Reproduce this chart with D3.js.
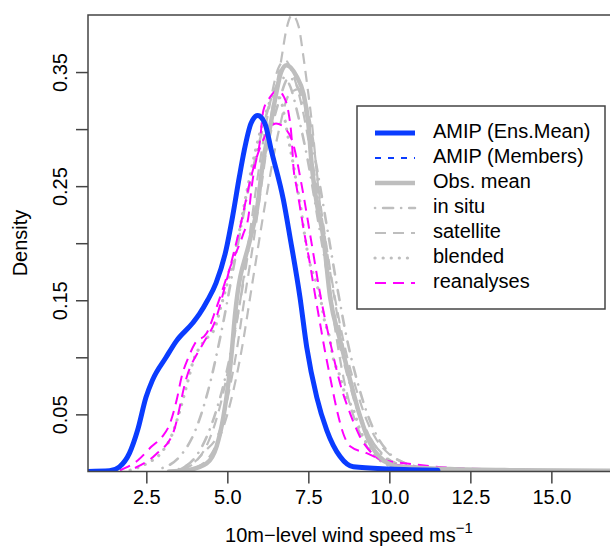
<!DOCTYPE html>
<head>
  <meta charset="utf-8">
  <script src="https://d3js.org/d3.v7.min.js"></script>
  <style>
    body { margin:0; background:#fff; }
    text { font-family: "Liberation Sans", Arial, sans-serif; }
  </style>
</head>
<body>
<script>
// density curves: [wind speed, density]
var amipMean = [[0.70,0],[1.36,0.0005],[1.67,0.004],[1.98,0.016],[2.23,0.036],[2.49,0.065],[2.69,0.080],
  [3.11,0.100],[3.42,0.114],[3.93,0.130],[4.14,0.138],[4.39,0.150],[4.65,0.165],[4.96,0.194],[5.16,0.223],
  [5.37,0.258],[5.52,0.281],[5.73,0.305],[5.94,0.312],[6.16,0.305],[6.36,0.281],[6.73,0.238],[6.93,0.206],
  [7.24,0.153],[7.45,0.109],[7.76,0.065],[8.07,0.036],[8.48,0.013],[8.89,0.004],[10.02,0.002],[11.5,0.001]];

var obsMean = [[3.2,0],[3.75,0.001],[4.36,0.007],[4.67,0.022],[4.88,0.048],[5.03,0.077],[5.14,0.106],[5.24,0.138],
  [5.70,0.203],[5.91,0.229],[6.11,0.273],[6.32,0.302],[6.50,0.330],[6.66,0.350],[6.83,0.356],[7.14,0.346],
  [7.35,0.331],[7.50,0.305],[7.60,0.270],[7.76,0.235],[7.96,0.206],[8.17,0.153],[8.48,0.115],[8.79,0.080],
  [9.10,0.048],[9.40,0.025],[9.81,0.010],[10.33,0.004],[11.87,0.002],[14.0,0.001],[16.81,0.0005]];

var inSitu1 = [[3.0,0.003],[3.5,0.012],[4.0,0.035],[4.4,0.07],[4.8,0.12],[5.2,0.18],[5.6,0.24],[6.0,0.29],
  [6.4,0.33],[6.7,0.345],[6.9,0.34],[7.2,0.31],[7.5,0.27],[7.8,0.22],[8.1,0.17],[8.4,0.12],[8.7,0.085],
  [9.0,0.055],[9.4,0.03],[9.8,0.014],[10.3,0.006],[11,0.002],[13,0.001]];
var inSitu2 = [[3.5,0.002],[4.0,0.012],[4.5,0.04],[5.0,0.09],[5.4,0.15],[5.8,0.22],[6.2,0.28],[6.6,0.325],
  [6.9,0.345],[7.2,0.335],[7.5,0.305],[7.8,0.26],[8.1,0.21],[8.4,0.16],[8.7,0.115],[9.0,0.08],[9.3,0.052],
  [9.6,0.032],[10.0,0.016],[10.5,0.007],[11.2,0.003],[12.5,0.001]];

var sat1 = [[3.5,0.001],[3.73,0.005],[4.06,0.010],[4.25,0.016],[4.77,0.036],[5.08,0.074],[5.29,0.106],[5.49,0.144],
  [5.8,0.20],[6.1,0.26],[6.4,0.32],[6.66,0.36],[6.82,0.387],[7.0,0.40],[7.2,0.39],[7.35,0.363],[7.5,0.331],
  [7.6,0.308],[7.8,0.25],[8.0,0.195],[8.3,0.13],[8.6,0.08],[9.0,0.04],[9.4,0.018],[9.9,0.007],[10.5,0.002],[11.5,0.001]];
var sat2 = [[3.6,0.002],[4.0,0.008],[4.4,0.025],[4.8,0.06],[5.1,0.1],[5.4,0.15],[5.7,0.21],[6.0,0.27],[6.3,0.32],
  [6.6,0.355],[6.8,0.36],[7.0,0.35],[7.3,0.32],[7.6,0.275],[7.9,0.225],[8.2,0.17],[8.5,0.12],[8.8,0.08],
  [9.1,0.05],[9.4,0.03],[9.8,0.015],[10.3,0.006],[11,0.002],[12.5,0.001]];
var sat3 = [[4.0,0.003],[4.5,0.015],[5.0,0.05],[5.4,0.1],[5.8,0.17],[6.2,0.24],[6.6,0.3],[6.9,0.33],[7.2,0.335],
  [7.45,0.32],[7.65,0.29],[7.85,0.24],[8.1,0.19],[8.4,0.14],[8.7,0.1],[9.0,0.07],[9.3,0.045],[9.6,0.028],
  [10.0,0.015],[10.5,0.007],[11.2,0.003],[12,0.001]];

var blended = [[2.0,0.001],[2.52,0.007],[2.98,0.017],[3.29,0.032],[3.48,0.048],[3.79,0.080],[3.94,0.096],
  [4.25,0.113],[4.62,0.126],[4.77,0.141],[5.0,0.165],[5.3,0.20],[5.6,0.245],[5.9,0.285],[6.2,0.315],[6.45,0.33],
  [6.65,0.325],[6.83,0.300],[6.94,0.283],[7.05,0.267],[7.15,0.250],[7.26,0.233],[7.34,0.216],[7.55,0.182],
  [7.73,0.167],[7.89,0.149],[8.0,0.132],[8.15,0.118],[8.26,0.100],[8.47,0.084],[8.63,0.068],[8.89,0.054],
  [9.1,0.036],[9.35,0.022],[9.8,0.008],[10.5,0.002]];

var rean1 = [[1.69,0.001],[2.25,0.010],[2.67,0.022],[2.98,0.030],[3.23,0.042],[3.44,0.063],[3.59,0.083],[3.80,0.100],
  [4.0,0.112],[4.36,0.121],[4.67,0.144],[5.1,0.18],[5.49,0.208],[5.65,0.223],[5.75,0.249],[5.85,0.267],[6.0,0.288],
  [6.11,0.316],[6.32,0.328],[6.55,0.334],[6.75,0.328],[6.88,0.316],[6.99,0.290],[7.04,0.267],[7.14,0.249],
  [7.24,0.232],[7.35,0.213],[7.55,0.182],[7.70,0.156],[7.86,0.130],[8.01,0.106],[8.17,0.083],[8.38,0.054],
  [8.58,0.033],[8.79,0.022],[9.30,0.016],[9.81,0.010],[10.54,0.007],[12,0.003],[14,0.0015],[16.81,0.001]];
var rean2 = [[2.15,0.003],[2.8,0.015],[3.33,0.034],[3.75,0.083],[4.25,0.112],[4.6,0.13],[5.0,0.17],[5.4,0.215],
  [5.75,0.26],[6.1,0.29],[6.5,0.305],[6.8,0.30],[7.0,0.29],[7.3,0.25],[7.6,0.2],[7.9,0.15],[8.2,0.11],
  [8.5,0.075],[8.8,0.05],[9.1,0.03],[9.5,0.015],[10,0.007],[10.8,0.004],[12,0.002],[14,0.001],[16.81,0.001]];

var legendLabels = ["AMIP (Ens.Mean)", "AMIP (Members)", "Obs. mean", "in situ", "satellite", "blended", "reanalyses"];
var xTicks = [2.5, 5.0, 7.5, 10.0, 12.5, 15.0];
var yTicks = [0.05, 0.10, 0.15, 0.20, 0.25, 0.30, 0.35];
var yLabelled = [0.05, 0.15, 0.25, 0.35];

var width = 610, height = 547;
var plot = {left: 88, right: 610, top: 15, bottom: 471.4};

var blue = "#0a3cff", grey = "#bebebe", magenta = "#ff00ff";
var styles = {
  mean:    {color: blue, w: 5, dash: null, cap: "round"},
  members: {color: blue, w: 1.8, dash: "6,7", cap: "butt"},
  obs:     {color: grey, w: 4.5, dash: null, cap: "round"},
  insitu:  {color: grey, w: 2.6, dash: "0.1,8,10,8", cap: "round"},
  sat:     {color: grey, w: 2.2, dash: "11,7", cap: "butt"},
  blend:   {color: grey, w: 3.2, dash: "0.1,8", cap: "round"},
  rean:    {color: magenta, w: 2.0, dash: "11,7", cap: "butt"}
};

var svg = d3.select("body").append("svg")
  .attr("width", width)
  .attr("height", height);

var x = d3.scaleLinear().domain([0.70, 16.81]).range([plot.left, plot.right]);
var y = d3.scaleLinear().domain([0, 0.4]).range([plot.bottom, plot.top]);

svg.append("clipPath").attr("id", "clip")
  .append("rect")
  .attr("x", plot.left).attr("y", plot.top)
  .attr("width", plot.right - plot.left).attr("height", plot.bottom - plot.top);

var line = d3.line()
  .x(function(d){ return x(d[0]); })
  .y(function(d){ return y(d[1]); })
  .curve(d3.curveMonotoneX);

var curves = [
  {data: sat3, s: styles.sat},
  {data: sat2, s: styles.sat},
  {data: inSitu2, s: styles.insitu},
  {data: inSitu1, s: styles.insitu},
  {data: blended, s: styles.blend},
  {data: sat1, s: styles.sat},
  {data: rean2, s: styles.rean},
  {data: rean1, s: styles.rean},
  {data: obsMean, s: styles.obs},
  {data: amipMean, s: styles.mean}
];

var g = svg.append("g").attr("clip-path", "url(#clip)");
g.selectAll("path").data(curves).enter().append("path")
  .attr("d", function(d){ return line(d.data); })
  .attr("fill", "none")
  .attr("stroke", function(d){ return d.s.color; })
  .attr("stroke-width", function(d){ return d.s.w; })
  .attr("stroke-dasharray", function(d){ return d.s.dash; })
  .attr("stroke-linecap", function(d){ return d.s.cap; })
  .attr("stroke-linejoin", "round");

// frame (right edge falls outside the window)
svg.append("path")
  .attr("d", "M" + (plot.right + 5) + "," + plot.top + "H" + plot.left + "V" + plot.bottom + "H" + (plot.right + 5))
  .attr("fill", "none").attr("stroke", "#444").attr("stroke-width", 1.5);

// axes
var xAxis = d3.axisBottom(x).tickValues(xTicks).tickSize(12).tickPadding(6)
  .tickFormat(d3.format(".1f"));
var gx = svg.append("g").attr("transform", "translate(0," + plot.bottom + ")").call(xAxis);
gx.select(".domain").remove();
gx.selectAll("line").attr("stroke", "#444").attr("stroke-width", 1.5);
gx.selectAll("text").attr("font-size", 20).attr("fill", "#000")
  .attr("font-family", "Liberation Sans, Arial, sans-serif");

var yAxis = d3.axisLeft(y).tickValues(yTicks).tickSize(12).tickPadding(8)
  .tickFormat(function(d){ return yLabelled.some(function(v){ return Math.abs(v - d) < 1e-9; }) ? d3.format(".2f")(d) : ""; });
var gy = svg.append("g").attr("transform", "translate(" + plot.left + ",0)").call(yAxis);
gy.select(".domain").remove();
gy.selectAll("line").attr("stroke", "#444").attr("stroke-width", 1.5);
gy.selectAll("text")
  .attr("font-size", 20).attr("fill", "#000")
  .attr("font-family", "Liberation Sans, Arial, sans-serif")
  .attr("text-anchor", "middle").attr("dy", null).attr("x", null)
  .attr("transform", "translate(-26,0) rotate(-90)")
  .attr("dominant-baseline", "middle");

svg.append("text")
  .attr("transform", "translate(22," + 243 + ") rotate(-90)")
  .attr("text-anchor", "middle").attr("dominant-baseline", "middle")
  .attr("font-size", 20)
  .text("Density");

var xt = svg.append("text")
  .attr("x", (plot.left + plot.right) / 2).attr("y", 542)
  .attr("text-anchor", "middle").attr("font-size", 20)
  .text("10m\u2212level wind speed ms");
xt.append("tspan").attr("dy", -9).attr("font-size", 15).text("\u22121");

// legend
var leg = svg.append("g");
leg.append("rect")
  .attr("x", 357).attr("y", 106).attr("width", 248).attr("height", 203)
  .attr("fill", "#fff").attr("stroke", "#444").attr("stroke-width", 1.5);

var legStyles = [styles.mean, styles.members, styles.obs, styles.insitu, styles.sat, styles.blend, styles.rean];
var rows = leg.selectAll("g.row").data(legendLabels).enter().append("g")
  .attr("transform", function(d, i){ return "translate(0," + (133 + i * 25) + ")"; });
rows.append("line")
  .attr("x1", 375).attr("x2", 415)
  .attr("stroke", function(d, i){ return legStyles[i].color; })
  .attr("stroke-width", function(d, i){ return legStyles[i].w; })
  .attr("stroke-dasharray", function(d, i){ return legStyles[i].dash; })
  .attr("stroke-linecap", function(d, i){ return i === 0 || i === 2 ? "butt" : legStyles[i].cap; });
rows.append("text")
  .attr("x", 433).attr("dominant-baseline", "middle")
  .attr("font-size", 20)
  .text(function(d){ return d; });
</script>
</body>
